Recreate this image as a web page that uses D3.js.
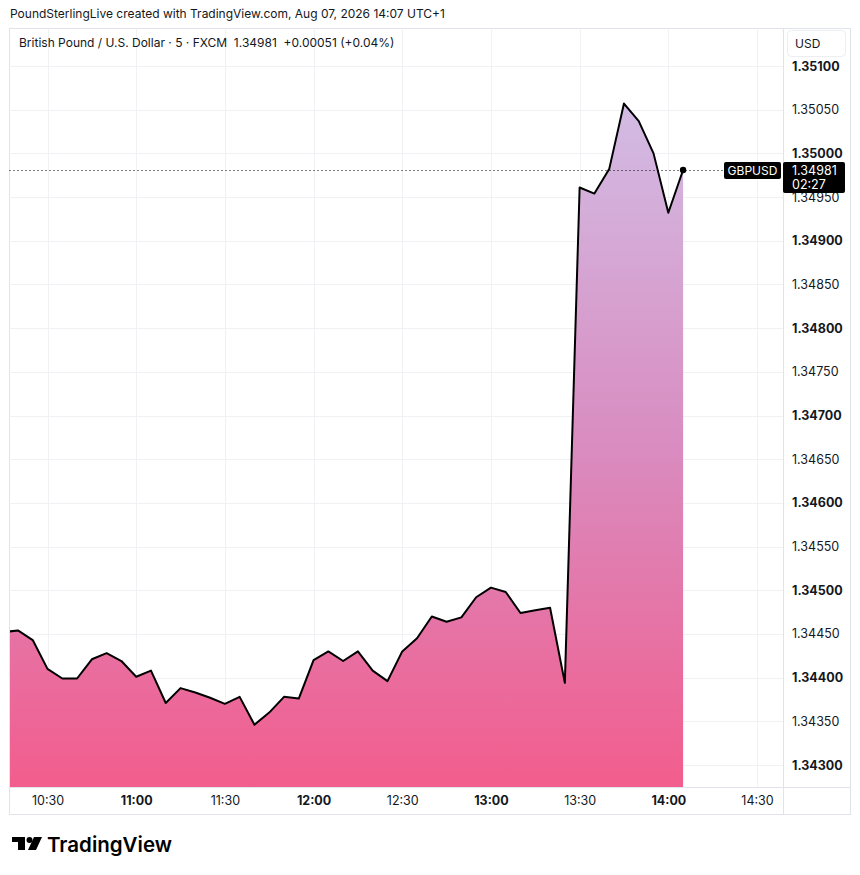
<!DOCTYPE html>
<html>
<head>
<meta charset="utf-8">
<script src="https://cdn.jsdelivr.net/npm/d3@7"></script>
<style>
  body { margin: 0; background: #fff; }
  svg text { font-family: Inter, "Noto Sans", sans-serif; fill: #131722; }
</style>
</head>
<body>
<script>
// GBPUSD 5 min closes
const times = ["10:15","10:20","10:25","10:30","10:35","10:40","10:45","10:50","10:55",
  "11:00","11:05","11:10","11:15","11:20","11:25","11:30","11:35","11:40","11:45","11:50","11:55",
  "12:00","12:05","12:10","12:15","12:20","12:25","12:30","12:35","12:40","12:45","12:50","12:55",
  "13:00","13:05","13:10","13:15","13:20","13:25","13:30","13:35","13:40","13:45","13:50","13:55",
  "14:00","14:05"];
const prices = [1.34452, 1.34454, 1.34443, 1.34410, 1.34399, 1.34399, 1.34421, 1.34428, 1.34419,
  1.34401, 1.34408, 1.34371, 1.34388, 1.34383, 1.34377, 1.34370, 1.34378, 1.34346, 1.34360,
  1.34378, 1.34376, 1.34420, 1.34430, 1.34419, 1.34430, 1.34408, 1.34396, 1.34430, 1.34445,
  1.34470, 1.34464, 1.34469, 1.34492, 1.34503, 1.34498, 1.34474, 1.34477, 1.34480, 1.34394,
  1.34961, 1.34954, 1.34982, 1.35057, 1.35037, 1.35000, 1.34932, 1.34981];
const priceTicks = [1.343, 1.3435, 1.344, 1.3445, 1.345, 1.3455, 1.346, 1.3465, 1.347,
  1.3475, 1.348, 1.3485, 1.349, 1.3495, 1.350, 1.3505, 1.351];
const timeTicks = ["10:30","11:00","11:30","12:00","12:30","13:00","13:30","14:00","14:30"];

const W = 860, H = 875;
const L = 9.5, T = 28.5, R = 783, B = 787, FR = 850.5, FB = 814.5;
const parse = d3.timeParse("%H:%M");
const data = times.map((t, i) => ({ t: parse(t), p: prices[i] }));
const last = data[data.length - 1];

const x = d3.scaleTime().domain([parse("10:30"), parse("14:30")]).range([47.5, 757]);
const y = d3.scaleLinear().domain([1.343, 1.351]).range([765, 66]);

const svg = d3.select("body").append("svg").attr("width", W).attr("height", H);

svg.append("text").attr("x", 10).attr("y", 18).attr("font-size", 12)
  .text("PoundSterlingLive created with TradingView.com, Aug 07, 2026 14:07 UTC+1");

// frame
svg.append("rect").attr("x", L).attr("y", T).attr("width", FR - L).attr("height", FB - T)
  .attr("fill", "#fff").attr("stroke", "#e0e3eb");

// grid
const grid = svg.append("g").attr("stroke", "#f0f1f4").attr("stroke-width", 1);
grid.selectAll(".h").data(priceTicks).join("line")
  .attr("x1", L).attr("x2", R).attr("y1", d => Math.round(y(d)) + 0.5).attr("y2", d => Math.round(y(d)) + 0.5);
grid.selectAll(".v").data(timeTicks).join("line")
  .attr("y1", T).attr("y2", B).attr("x1", d => Math.round(x(parse(d))) + 0.5).attr("x2", d => Math.round(x(parse(d))) + 0.5);

// area + line
const defs = svg.append("defs");
defs.append("clipPath").attr("id", "plot").append("rect")
  .attr("x", L + 0.5).attr("y", T).attr("width", R - L - 0.5).attr("height", B - T);
const grad = defs.append("linearGradient").attr("id", "fillg")
  .attr("gradientUnits", "userSpaceOnUse").attr("x1", 0).attr("x2", 0)
  .attr("y1", y(d3.max(prices))).attr("y2", B);
grad.append("stop").attr("offset", 0).attr("stop-color", "#d2bce4");
grad.append("stop").attr("offset", 0.5).attr("stop-color", "#d98cc0");
grad.append("stop").attr("offset", 1).attr("stop-color", "#f25d8d");

const plot = svg.append("g").attr("clip-path", "url(#plot)");
plot.append("path").datum(data)
  .attr("d", d3.area().x(d => x(d.t)).y0(B).y1(d => y(d.p)))
  .attr("fill", "url(#fillg)");
plot.append("path").datum(data)
  .attr("d", d3.line().x(d => x(d.t)).y(d => y(d.p)))
  .attr("fill", "none").attr("stroke", "#000").attr("stroke-width", 2).attr("stroke-linejoin", "round");

// last price dotted line + dot
const ly = Math.round(y(last.p)) + 0.5;
svg.append("line").attr("x1", L).attr("x2", 724).attr("y1", ly).attr("y2", ly)
  .attr("stroke", "#000").attr("stroke-width", 1).attr("stroke-dasharray", "1 3");
svg.append("circle").attr("cx", x(last.t)).attr("cy", y(last.p)).attr("r", 3.2).attr("fill", "#000");

// separators
svg.append("line").attr("x1", R + 0.5).attr("x2", R + 0.5).attr("y1", T).attr("y2", FB).attr("stroke", "#e0e3eb");
svg.append("line").attr("x1", L).attr("x2", FR).attr("y1", B + 0.5).attr("y2", B + 0.5).attr("stroke", "#e0e3eb");

// legend
svg.append("text").attr("x", 19).attr("y", 47).attr("font-size", 12)
  .text("British Pound / U.S. Dollar · 5 · FXCM  1.34981  +0.00051 (+0.04%)")
  .attr("xml:space", "preserve").style("white-space", "pre");

// price axis
const yAxis = svg.append("g").attr("transform", `translate(${R},0)`)
  .call(d3.axisRight(y).tickValues(priceTicks).tickFormat(d3.format(".5f")).tickSize(0).tickPadding(9));
yAxis.select(".domain").remove();
yAxis.selectAll("text").attr("font-size", 12.5).attr("fill", "#131722")
  .attr("font-weight", d => Math.abs(d * 1000 - Math.round(d * 1000)) < 1e-6 ? 700 : 400);

// time axis
const xAxis = svg.append("g").attr("transform", `translate(0,${B})`)
  .call(d3.axisBottom(x).tickValues(timeTicks.map(parse)).tickFormat(d3.timeFormat("%H:%M")).tickSize(0).tickPadding(9));
xAxis.select(".domain").remove();
xAxis.selectAll("text").attr("font-size", 12.5).attr("fill", "#131722")
  .attr("font-weight", d => d.getMinutes() === 0 ? 700 : 400);

// USD box
svg.append("rect").attr("x", 787.5).attr("y", 30.5).attr("width", 58).attr("height", 26).attr("rx", 4)
  .attr("fill", "#fff").attr("stroke", "#eceef2");
svg.append("text").attr("x", 795).attr("y", 48).attr("font-size", 12).text("USD");

// last price labels
svg.append("rect").attr("x", 724).attr("y", ly - 8.5).attr("width", 57).attr("height", 17).attr("rx", 2).attr("fill", "#000");
svg.append("text").attr("x", 752.5).attr("y", ly + 4.5).attr("text-anchor", "middle").attr("font-size", 12)
  .style("fill", "#fff").text("GBPUSD");
svg.append("rect").attr("x", 783).attr("y", ly - 8.5).attr("width", 62).attr("height", 31).attr("rx", 2).attr("fill", "#000");
svg.append("text").attr("x", 792).attr("y", ly + 4.5).attr("font-size", 12.5).style("fill", "#fff")
  .text(d3.format(".5f")(last.p));
svg.append("text").attr("x", 792).attr("y", ly + 18).attr("font-size", 12.5).style("fill", "#fff").text("02:27");

// TradingView logo
const logo = svg.append("g").attr("fill", "#000");
logo.append("rect").attr("x", 12).attr("y", 837).attr("width", 13).attr("height", 5);
logo.append("rect").attr("x", 18).attr("y", 837).attr("width", 7).attr("height", 13);
logo.append("circle").attr("cx", 29.5).attr("cy", 840).attr("r", 3);
logo.append("path").attr("d", "M34,837 L42,837 L36,850 L28,850 Z");
svg.append("text").attr("x", 47).attr("y", 852).attr("font-size", 20.5).attr("font-weight", 600)
  .style("fill", "#000").text("TradingView");
</script>
</body>
</html>
